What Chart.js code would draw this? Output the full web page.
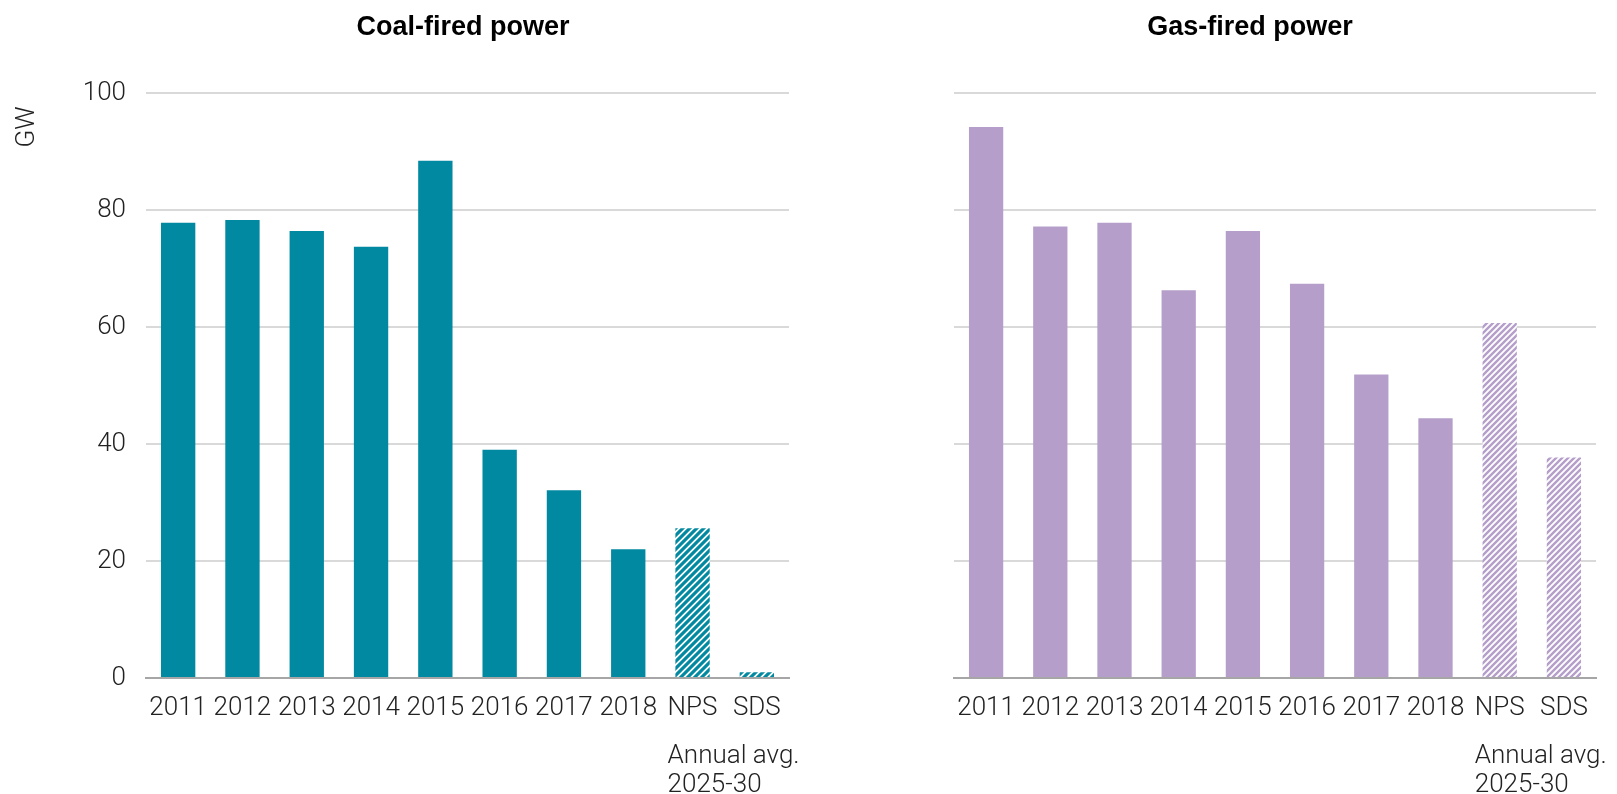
<!DOCTYPE html>
<html><head><meta charset="utf-8">
<script src="https://cdn.jsdelivr.net/npm/chart.js@4.4.1/dist/chart.umd.min.js"></script>
<style>
html,body{margin:0;padding:0;background:#fff;width:1617px;height:794px;overflow:hidden}
.c{position:absolute;top:0;height:794px}
#w1{left:0;width:808px}
#w2{left:808px;width:809px}
canvas{display:block}
</style></head><body>
<div class="c" id="w1"><canvas id="c1" width="808" height="794"></canvas></div>
<div class="c" id="w2"><canvas id="c2" width="809" height="794"></canvas></div>
<script>
const categories = ['2011','2012','2013','2014','2015','2016','2017','2018','NPS','SDS'];
const coalValues = [77.8, 78.3, 76.4, 73.7, 88.4, 39.0, 32.1, 22.0, 25.6, 1.0];
const gasValues  = [94.2, 77.2, 77.8, 66.3, 76.4, 67.4, 51.9, 44.4, 60.7, 37.7];
const yTicks = [0, 20, 40, 60, 80, 100];
const projectionNote = ['Annual avg.', '2025-30'];
const titles = ['Coal-fired power', 'Gas-fired power'];
const yUnit = 'GW';
const projectedFrom = 8; // index of first projected category

const LABEL_FONT = {family: 'Roboto', size: 26, weight: '300'};
const TEXT_COLOR = '#222222';

function makeHatch(color, s, lw) {
  const c = document.createElement('canvas');
  c.width = s; c.height = s;
  const g = c.getContext('2d');
  g.fillStyle = '#ffffff';
  g.fillRect(0, 0, s, s);
  g.strokeStyle = color;
  g.lineWidth = lw;
  g.lineCap = 'square';
  g.beginPath();
  g.moveTo(-1, s + 1); g.lineTo(s + 1, -1);
  g.moveTo(-s, s); g.lineTo(s, -s);
  g.moveTo(0, 2 * s); g.lineTo(2 * s, 0);
  g.stroke();
  const ctx = document.createElement('canvas').getContext('2d');
  return ctx.createPattern(c, 'repeat');
}

function makeChart(canvasId, values, color, hatchSize, hatchWidth, title, titleX, showYLabels, padRight) {
  const hatch = makeHatch(color, hatchSize, hatchWidth);
  const colors = values.map((v, i) => i >= projectedFrom ? hatch : color);
  const textPlugin = {
    id: 'texts',
    afterDraw(chart) {
      const ctx = chart.ctx;
      const xs = chart.scales.x;
      ctx.save();
      ctx.fillStyle = '#000000';
      ctx.font = 'bold 27px "Liberation Sans", Arial, sans-serif';
      ctx.textAlign = 'center';
      ctx.textBaseline = 'alphabetic';
      ctx.fillText(title, titleX, 35);
      ctx.font = '300 26px Roboto, sans-serif';
      ctx.fillStyle = TEXT_COLOR;
      const npsX = xs.getPixelForValue(projectedFrom);
      const w = ctx.measureText(categories[projectedFrom]).width;
      ctx.textAlign = 'left';
      ctx.fillText(projectionNote[0], npsX - w / 2, 763);
      ctx.fillText(projectionNote[1], npsX - w / 2, 792);
      if (showYLabels) {
        ctx.translate(27, 127);
        ctx.rotate(-Math.PI / 2);
        ctx.textAlign = 'center';
        ctx.textBaseline = 'middle';
        ctx.fillText(yUnit, 0, 0);
      }
      ctx.restore();
    }
  };
  return new Chart(document.getElementById(canvasId), {
    type: 'bar',
    data: {
      labels: categories,
      datasets: [{
        data: values,
        backgroundColor: colors,
        borderWidth: 0,
        categoryPercentage: 1,
        barPercentage: 0.534
      }]
    },
    options: {
      responsive: false,
      animation: false,
      devicePixelRatio: 1,
      layout: {padding: {top: 93, right: padRight, bottom: 0, left: 0}},
      plugins: {legend: {display: false}, tooltip: {enabled: false}, title: {display: false}},
      scales: {
        x: {
          grid: {display: false, drawTicks: false},
          border: {display: true, color: '#a6a6a6', width: 2},
          ticks: {font: LABEL_FONT, color: TEXT_COLOR, padding: 15, autoSkip: false, maxRotation: 0, minRotation: 0},
          afterFit: s => { s.height = 116; }
        },
        y: {
          min: 0, max: 100,
          afterBuildTicks: s => { s.ticks = yTicks.map(v => ({value: v})); },
          grid: {
            color: c => (c.tick && c.tick.value === 0) ? 'rgba(0,0,0,0)' : '#d9d9d9',
            lineWidth: 2,
            drawTicks: false
          },
          border: {display: false},
          ticks: {display: showYLabels, font: LABEL_FONT, color: TEXT_COLOR, padding: 20},
          afterFit: s => { s.width = 146; }
        }
      }
    },
    plugins: [textPlugin]
  });
}

makeChart('c1', coalValues, '#0089a0', 7, 3.2, titles[0], 463, true, 19);
makeChart('c2', gasValues, '#b59fca', 6, 2.4, titles[1], 442, false, 21);
</script>
</body></html>
